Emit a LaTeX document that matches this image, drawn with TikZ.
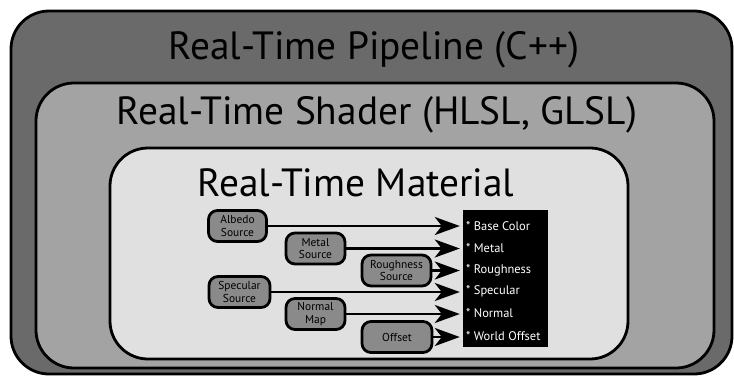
\documentclass[tikz,border=0pt]{standalone}
\usepackage{fontspec}
\setmainfont{PT Sans}
\usetikzlibrary{arrows.meta}
\definecolor{outergray}{HTML}{6A6A6A}
\definecolor{middlegray}{HTML}{A3A3A3}
\definecolor{innergray}{HTML}{E0E0E0}
\definecolor{srcgray}{HTML}{8A8A8A}
\begin{document}
\begin{tikzpicture}[x=1bp,y=-1bp,
  layer/.style={draw=black,line width=2.8bp,rounded corners=38bp,inner sep=0pt},
  title/.style={inner sep=0pt,font=\fontsize{39.5}{42}\selectfont},
  src/.style={draw=black,line width=2.8bp,fill=srcgray,rounded corners=9bp,
    minimum height=31bp,align=center,inner sep=1bp,
    font=\fontsize{11.5}{12.5}\selectfont},
  arr/.style={line width=2.8bp,-{Stealth[length=25bp,width=18bp,inset=7bp]},shorten >=3bp},
  lbl/.style={text=white,anchor=west,inner sep=0pt,font=\fontsize{12.5}{13}\selectfont}]
\useasboundingbox (0,0) rectangle (734,376);

% nested layers
\node[layer,fill=outergray,minimum width=721bp,minimum height=363bp] (pipeline) at (371.5,192.5) {};
\node[layer,fill=middlegray,minimum width=678bp,minimum height=285bp] (shader) at (375,225.5) {};
\node[layer,fill=innergray,minimum width=518bp,minimum height=211bp] (material) at (369,253.5) {};

% layer titles
\node[title] (tpipe) at (374,50) {Real-Time Pipeline (C++)};
\node[title] (tshader) at (377,115) {Real-Time Shader (HLSL, GLSL)};
\node[title] (tmat) at (356,183) {Real-Time Material};

% material inputs
\node[fill=black,minimum width=85bp,minimum height=137bp,inner sep=0pt] (inputs) at (505.5,278.5) {};
\node[lbl] (bc) at (466,226) {* Base Color};
\node[lbl] (me) at (466,248.5) {* Metal};
\node[lbl] (ro) at (466,270.5) {* Roughness};
\node[lbl] (sp) at (466,291.5) {* Specular};
\node[lbl] (no) at (466,313.5) {* Normal};
\node[lbl] (wo) at (466,336) {* World Offset};

% sources
\node[src,minimum width=58bp] (albedo) at (237.5,226) {Albedo\\Source};
\node[src,minimum width=59bp] (metal) at (315.5,248.5) {Metal\\Source};
\node[src,minimum width=69bp] (rough) at (396.5,270.5) {Roughness\\Source};
\node[src,minimum width=61bp] (spec) at (239.5,292) {Specular\\Source};
\node[src,minimum width=59bp] (normal) at (315.5,314) {Normal\\Map};
\node[src,minimum width=70bp] (offset) at (397,337) {Offset};

% connections
\draw[arr] (albedo.east) -- (albedo.east -| inputs.west);
\draw[arr] (metal.east) -- (metal.east -| inputs.west);
\draw[arr] (rough.east) -- (rough.east -| inputs.west);
\draw[arr] (spec.east) -- (spec.east -| inputs.west);
\draw[arr] (normal.east) -- (normal.east -| inputs.west);
\draw[arr] (offset.east) -- (offset.east -| inputs.west);
\end{tikzpicture}
\end{document}
